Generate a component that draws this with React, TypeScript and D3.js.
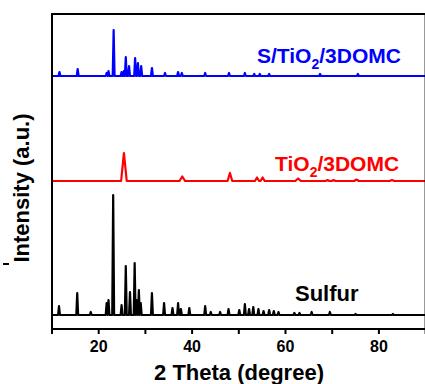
import React from "react";
import * as d3 from "d3";

// 2θ tick values
const xTicks = [20, 40, 60, 80];
const xMinorTicks = [10, 30, 50, 70, 90];

// Sulfur peaks (2θ, height above own baseline, a.u.)
const sulfurPos = [11.5, 15.4, 18.3, 21.7, 22.1, 23.1, 24.9, 25.8, 26.7, 27.7, 28.1, 28.6, 29.0, 31.4, 34.0, 35.8, 37.0, 37.6, 39.4, 42.8, 44.0, 46.0, 47.8, 50.1, 51.3, 52.2, 53.1, 54.2, 55.3, 56.5, 57.5, 58.5, 61.9, 63.0, 65.6, 69.5, 75.0, 83.0];
const sulfurHeight = [9, 22, 3, 12, 15, 120, 10, 49, 23, 52, 15, 25, 12, 22, 12, 7, 12, 6, 7, 9, 3, 3, 6, 5, 11, 6, 8, 6, 4, 5, 4, 3, 2, 2, 3, 3, 1, 1];
const sulfurWidth = 0.2;

// TiO2/3DOMC peaks
const tio2Pos = [25.4, 37.9, 48.1, 53.9, 55.1, 62.7, 69.0, 70.3, 75.2, 82.8];
const tio2Height = [28, 4.5, 8, 3.5, 3.5, 2.5, 1, 1, 1.5, 1];
const tio2Width = [0.6, 0.6, 0.5, 0.45, 0.45, 0.6, 0.4, 0.4, 0.5, 0.5];

// S/TiO2/3DOMC peaks
const compPos = [11.6, 15.5, 21.7, 22.1, 23.2, 24.9, 25.4, 25.8, 26.5, 27.8, 28.4, 29.1, 31.4, 34.2, 37.0, 37.8, 42.8, 47.9, 51.3, 53.3, 54.5, 56.5, 67.4, 75.5];
const compHeight = [4, 7, 3, 5, 46, 4, 5, 19, 10, 18, 13, 10, 8, 3, 4, 3, 3, 3, 3, 2, 2, 2, 2, 2];
const compWidth = 0.2;

// vertical offsets of each pattern (a.u.)
const offsets = { sulfur: 14, tio2: 148, comp: 253 };

const W = 425;
const H = 384;
const margin = { left: 52, top: 14, bottom: 55 };

function buildPoints(pos: number[], height: number[], width: number[] | number, offset: number) {
  const pts: [number, number][] = [[10, offset]];
  pos.forEach((p, i) => {
    const w = Array.isArray(width) ? width[i] : width;
    pts.push([p - w, offset]);
    pts.push([p, offset + height[i]]);
    pts.push([p + w, offset]);
  });
  pts.push([90, offset]);
  return pts;
}

export default function App() {
  const x = d3.scaleLinear().domain([10, 90]).range([margin.left, margin.left + 373.6]);
  const y = d3.scaleLinear().domain([0, 315]).range([H - margin.bottom, margin.top]);
  const y0 = y(0);
  const line = d3
    .line<[number, number]>()
    .x((d) => x(d[0]))
    .y((d) => y(d[1]));

  const sulfur = buildPoints(sulfurPos, sulfurHeight, sulfurWidth, offsets.sulfur);
  const tio2 = buildPoints(tio2Pos, tio2Height, tio2Width, offsets.tio2);
  const comp = buildPoints(compPos, compHeight, compWidth, offsets.comp);

  const font = "'Liberation Sans', Arial, sans-serif";

  return (
    <svg
      width={W}
      height={H}
      style={{ position: "absolute", left: 0, top: 0, background: "#fff" }}
      fontFamily={font}
      fontWeight="bold"
    >
      <path d={line(sulfur) || ""} fill="none" stroke="#000" strokeWidth={2.2} strokeLinejoin="round" />
      <path d={line(tio2) || ""} fill="none" stroke="#ff0000" strokeWidth={2.2} strokeLinejoin="round" />
      <path d={line(comp) || ""} fill="none" stroke="#0000ff" strokeWidth={2.2} strokeLinejoin="round" />

      {/* frame */}
      <rect
        x={x(10)}
        y={y(315)}
        width={x(90) - x(10)}
        height={y0 - y(315)}
        fill="none"
        stroke="#000"
        strokeWidth={2}
      />

      {/* ticks */}
      {xMinorTicks.concat(xTicks).map((t) => (
        <line key={"t" + t} x1={x(t)} x2={x(t)} y1={y0} y2={y0 + 5} stroke="#000" strokeWidth={2} />
      ))}
      {xTicks.map((t) => (
        <text key={"l" + t} x={x(t)} y={352} textAnchor="middle" fontSize={16}>
          {t}
        </text>
      ))}

      <text x={239} y={380} textAnchor="middle" fontSize={22}>
        2 Theta (degree)
      </text>
      <text transform="translate(29,188) rotate(-90)" textAnchor="middle" fontSize={22}>
        Intensity (a.u.)
      </text>

      {/* series labels */}
      <text x={257} y={63} fontSize={21} fill="#0000ff">
        S/TiO
        <tspan fontSize={14} dy={6}>2</tspan>
        <tspan dy={-6}>/3DOMC</tspan>
      </text>
      <text x={275} y={171} fontSize={21} fill="#ff0000">
        TiO
        <tspan fontSize={14} dy={6}>2</tspan>
        <tspan dy={-6}>/3DOMC</tspan>
      </text>
      <text x={295} y={301} fontSize={22} fill="#000">
        Sulfur
      </text>

      <line x1={3} x2={9} y1={264} y2={264} stroke="#000" strokeWidth={2} />
    </svg>
  );
}
